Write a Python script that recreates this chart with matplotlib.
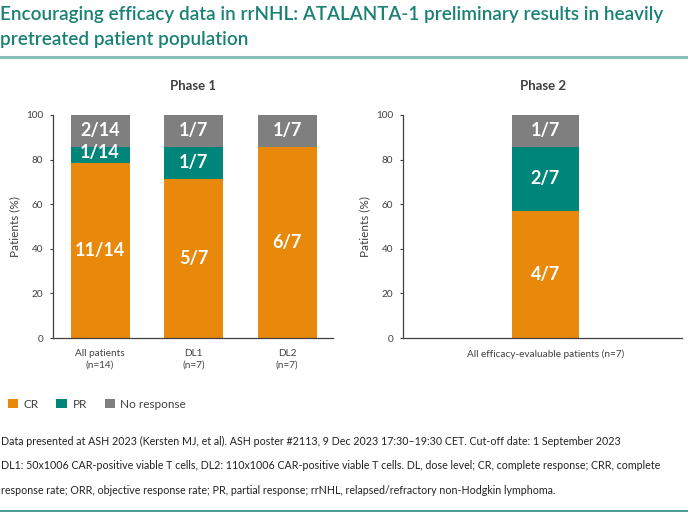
import numpy as np
import matplotlib.pyplot as plt
from matplotlib.lines import Line2D
from matplotlib.patches import Patch

plt.rcParams['font.family'] = ['Lato', 'DejaVu Sans']

# Phase 1 data (counts of patients)
p1_groups = ["All patients\n(n=14)", "DL1\n(n=7)", "DL2\n(n=7)"]
p1_n = [14, 7, 7]
p1_cr = [11, 5, 6]
p1_pr = [1, 1, 0]
p1_nr = [2, 1, 1]

# Phase 2 data
p2_groups = ["All efficacy-evaluable patients (n=7)"]
p2_n = [7]
p2_cr = [4]
p2_pr = [2]
p2_nr = [1]

categories = ["CR", "PR", "No response"]
colors = ["#E8890C", "#00857A", "#7F7F7F"]
teal = "#1A8275"
grey_txt = "#404040"

title = ("Encouraging efficacy data in rrNHL: ATALANTA-1 preliminary results in heavily\n"
         "pretreated patient population")
notes = [
    "Data presented at ASH 2023 (Kersten MJ, et al). ASH poster #2113, 9 Dec 2023 17:30\u201319:30 CET. Cut-off date: 1 September 2023",
    "DL1: 50x1006 CAR-positive viable T cells, DL2: 110x1006 CAR-positive viable T cells. DL, dose level; CR, complete response; CRR, complete",
    "response rate; ORR, objective response rate; PR, partial response; rrNHL, relapsed/refractory non-Hodgkin lymphoma.",
]

W, H = 688, 519
fig = plt.figure(figsize=(W / 100, H / 100), dpi=100)


def px_axes(x0, y0, x1, y1):
    return fig.add_axes([x0 / W, 1 - y1 / H, (x1 - x0) / W, (y1 - y0) / H])


def stacked(ax, groups, n, cr, pr, nr, width, xlim, ptitle):
    x = np.arange(len(groups))
    n = np.array(n, float)
    bottom = np.zeros(len(groups))
    for vals, col in zip([cr, pr, nr], colors):
        pct = np.array(vals) / n * 100
        ax.bar(x, pct, width, bottom=bottom, color=col, linewidth=0)
        for xi, b, p, v, nn in zip(x, bottom, pct, vals, n):
            if v > 0:
                cy = b + p / 2 if p > 10 else b + p / 2 + 1
                ax.text(xi, cy, f"{v}/{int(nn)}", ha='center', va='center',
                        color='white', fontsize=13, fontweight='bold')
        bottom = bottom + pct
    ax.set_ylim(0, 100)
    ax.set_xlim(*xlim)
    ax.set_yticks([0, 20, 40, 60, 80, 100])
    ax.set_xticks(x)
    ax.set_xticklabels(groups, fontsize=7.2, color=grey_txt, linespacing=1.4)
    ax.tick_params(axis='y', labelsize=7.2, labelcolor=grey_txt, length=2, color=grey_txt, pad=5)
    ax.tick_params(axis='x', length=0, pad=8)
    for s in ['top', 'right']:
        ax.spines[s].set_visible(False)
    for s in ['left', 'bottom']:
        ax.spines[s].set_color(grey_txt)
        ax.spines[s].set_linewidth(0.9)
    ax.set_ylabel("Patients (%)", fontsize=8.5, color=grey_txt, labelpad=4)
    ax.set_title(ptitle, fontsize=9.5, fontweight='bold', color=grey_txt, pad=18)


ax1 = px_axes(53, 115, 333, 338)
stacked(ax1, p1_groups, p1_n, p1_cr, p1_pr, p1_nr, 0.63, (-0.503, 2.49), "Phase 1")

ax2 = px_axes(403, 115, 682, 338)
stacked(ax2, p2_groups, p2_n, p2_cr, p2_pr, p2_nr, 0.5, (-1.06, 1.02), "Phase 2")

fig.text(0 / W, 1 - 6 / H, title, ha='left', va='top', fontsize=13.6,
         fontweight='semibold', color=teal, linespacing=1.6)
fig.add_artist(Line2D([0, 1], [1 - 57 / H] * 2, color="#86BDB7", lw=2.2))

handles = [Patch(facecolor=c, edgecolor='none') for c in colors]
fig.legend(handles, categories, loc='center left', bbox_to_anchor=(3 / W, 1 - 404 / H),
           ncol=3, frameon=False, fontsize=8.5, handlelength=0.85, handleheight=0.85,
           handletextpad=0.5, columnspacing=1.5, labelcolor=grey_txt, borderaxespad=0)

for i, line in enumerate(notes):
    fig.text(1 / W, 1 - (441 + 24.5 * i) / H, line, ha='left', va='center',
             fontsize=7.7, color="#222222")

fig.add_artist(Line2D([0, 1], [1 - 511 / H] * 2, color="#2A8A80", lw=1.2))

fig.savefig("out.png", dpi=100)
